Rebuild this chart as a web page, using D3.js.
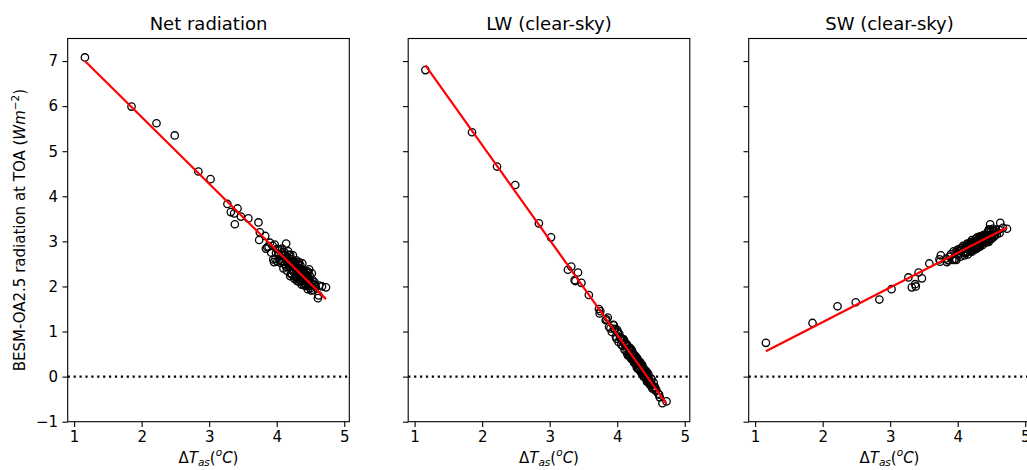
<!DOCTYPE html>
<html>
<head>
<meta charset="utf-8">
<script src="https://cdn.jsdelivr.net/npm/d3@7"></script>
<style>
    body { margin: 0; background: #fff; }
    svg text { font-family: "DejaVu Sans", sans-serif; fill: #000; }
</style>
</head>
<body>
<div id="chart-container"></div>
<script>
// Surface warming (x) for each year of the run
var deltaT = [
    1.16, 1.85, 2.22, 2.49, 2.84, 3.02, 3.27, 3.32, 3.42, 3.37, 3.38, 3.47, 3.58, 3.73, 3.75, 3.74, 3.83,
    3.86, 3.90, 3.84, 3.95, 3.88, 3.97, 3.92, 4.01, 3.94, 3.99,
    4.05, 3.98, 4.03, 4.08, 3.96, 4.10, 4.02, 4.12, 4.06, 4.00,
    4.14, 4.09, 4.17, 4.04, 4.11, 4.19, 4.07, 4.15, 4.21, 4.13,
    4.18, 4.10, 4.23, 4.16, 4.08, 4.20, 4.25, 4.12, 4.22, 4.17,
    4.27, 4.14, 4.24, 4.19, 4.30, 4.21, 4.15, 4.26, 4.23, 4.32,
    4.18, 4.28, 4.25, 4.33, 4.20, 4.29, 4.35, 4.22, 4.31, 4.27,
    4.24, 4.36, 4.30, 4.26, 4.38, 4.33, 4.21, 4.34, 4.40, 4.28,
    4.37, 4.31, 4.42, 4.29, 4.35, 4.44, 4.32, 4.39, 4.25, 4.41,
    4.36, 4.46, 4.33, 4.43, 4.38, 4.30, 4.47, 4.40, 4.35, 4.45,
    4.49, 4.37, 4.42, 4.51, 4.39, 4.46, 4.34, 4.48, 4.44, 4.53,
    4.41, 4.50, 4.38, 4.55, 4.45, 4.52, 4.43, 4.57, 4.47, 4.40,
    4.54, 4.61, 4.49, 4.44, 4.58, 4.51, 4.63, 4.46, 4.56, 4.73,
    4.62, 4.67, 4.48
];
var netRadiation = [
    7.08, 5.99, 5.62, 5.35, 4.55, 4.38, 3.83, 3.65, 3.73, 3.62, 3.38, 3.55, 3.51, 3.42, 3.20, 3.03, 3.12,
    2.87, 2.97, 2.84, 2.60, 2.88, 2.93, 2.75, 2.55, 2.90, 2.74,
    2.82, 2.61, 2.70, 2.84, 2.54, 2.70, 2.83, 2.49, 2.52, 2.83,
    2.95, 2.55, 2.78, 2.58, 2.76, 2.42, 2.70, 2.35, 2.60, 2.64,
    2.70, 2.40, 2.52, 2.52, 2.56, 2.70, 2.36, 2.70, 2.29, 2.55,
    2.54, 2.44, 2.69, 2.54, 2.24, 2.28, 2.66, 2.46, 2.36, 2.50,
    2.45, 2.21, 2.55, 2.33, 2.23, 2.58, 2.15, 2.54, 2.30, 2.21,
    2.54, 2.39, 2.39, 2.17, 2.18, 2.54, 2.50, 2.15, 2.29, 2.47,
    2.04, 2.49, 2.22, 2.34, 2.47, 2.05, 2.16, 2.36, 2.32, 2.14,
    2.31, 2.33, 2.11, 2.25, 2.51, 2.12, 2.01, 2.03, 2.29, 2.24,
    2.23, 2.31, 2.05, 2.08, 2.14, 1.94, 2.40, 2.10, 2.34, 2.14,
    2.22, 1.96, 2.12, 2.04, 2.10, 2.29, 2.01, 2.03, 2.30, 2.35,
    1.92, 1.74, 2.01, 2.22, 1.98, 1.91, 2.02, 2.17, 2.09, 1.98,
    1.80, 2.00, 2.38
];
var lwClearSky = [
    6.80, 5.42, 4.66, 4.25, 3.40, 3.09, 2.37, 2.44, 2.31, 2.14, 2.12, 2.08, 1.81, 1.50, 1.45, 1.40, 1.25,
    1.31, 1.07, 1.27, 1.14, 1.10, 1.05, 0.99, 0.98, 1.15, 0.84,
    0.86, 0.89, 0.95, 0.68, 1.06, 0.81, 0.77, 0.74, 0.71, 1.04,
    0.57, 0.83, 0.47, 0.87, 0.59, 0.64, 0.80, 0.69, 0.41, 0.71,
    0.46, 0.79, 0.53, 0.47, 0.83, 0.56, 0.31, 0.69, 0.57, 0.54,
    0.28, 0.72, 0.43, 0.48, 0.37, 0.60, 0.50, 0.35, 0.47, 0.16,
    0.61, 0.44, 0.35, 0.29, 0.60, 0.20, 0.26, 0.39, 0.31, 0.44,
    0.36, 0.08, 0.36, 0.47, 0.10, 0.15, 0.39, 0.32, 0.01, 0.35,
    0.26, 0.17, 0.09, 0.38, 0.11, 0.09, 0.32, 0.00, 0.46, 0.08,
    0.23, -0.13, 0.31, -0.05, 0.06, 0.40, -0.07, 0.17, 0.12, -0.04,
    -0.19, 0.18, 0.12, -0.17, 0.12, 0.06, 0.21, -0.12, -0.11, -0.26,
    0.13, -0.04, 0.20, -0.25, -0.01, -0.26, 0.12, -0.32, -0.06, 0.07,
    -0.13, -0.38, -0.17, 0.02, -0.30, -0.06, -0.46, -0.08, -0.23, -0.55,
    -0.40, -0.59, -0.16
];
var swClearSky = [
    0.75, 1.19, 1.56, 1.65, 1.71, 1.94, 2.20, 1.98, 2.31, 2.05, 2.00, 2.18, 2.51, 2.60, 2.69, 2.55, 2.62,
    2.58, 2.72, 2.54, 2.59, 2.66, 2.76, 2.59, 2.70, 2.78, 2.72,
    2.85, 2.59, 2.79, 2.90, 2.61, 2.78, 2.81, 2.75, 2.82, 2.82,
    2.95, 2.75, 2.92, 2.66, 2.84, 2.79, 2.86, 2.71, 3.03, 2.85,
    2.95, 2.69, 2.89, 2.89, 2.75, 2.99, 2.86, 2.89, 2.81, 2.91,
    3.06, 2.76, 2.98, 2.87, 2.91, 2.77, 2.94, 2.96, 2.87, 3.09,
    2.84, 2.84, 3.00, 3.03, 2.80, 3.09, 2.95, 2.94, 2.97, 2.85,
    2.97, 3.11, 2.98, 2.82, 3.01, 3.11, 2.98, 2.93, 3.10, 2.99,
    2.92, 3.04, 3.09, 2.93, 3.11, 3.02, 2.90, 3.13, 2.88, 3.07,
    3.00, 3.23, 2.88, 3.14, 3.14, 2.88, 3.04, 2.97, 3.05, 3.14,
    3.22, 3.05, 2.98, 3.12, 3.02, 2.99, 3.07, 3.11, 3.20, 3.23,
    3.09, 3.06, 2.99, 3.13, 3.11, 3.28, 2.98, 3.21, 3.26, 3.12,
    3.11, 3.26, 3.13, 3.14, 3.16, 3.07, 3.41, 3.26, 3.26, 3.28,
    3.18, 3.30, 3.38
];

var panelTitles = ['Net radiation', 'LW (clear-sky)', 'SW (clear-sky)'];
var xTicks = [1, 2, 3, 4, 5];
var yTicks = [-1, 0, 1, 2, 3, 4, 5, 6, 7];
var xDomain = [0.905, 5.075];
var yDomain = [-1, 7.5];

var width = 1027;
var height = 470;
var panelLefts = [67.7, 408.2, 748.7];
var panelWidth = 281.6;
var panelTop = 38.5;
var panelBottom = 421.7;

var panels = [
    { title: panelTitles[0], values: netRadiation },
    { title: panelTitles[1], values: lwClearSky },
    { title: panelTitles[2], values: swClearSky }
];

// least squares fit, y = a + b*x
function linearFit(xs, ys) {
    var mx = d3.mean(xs), my = d3.mean(ys);
    var sxy = 0, sxx = 0;
    for (var i = 0; i < xs.length; i++) {
        sxy += (xs[i] - mx) * (ys[i] - my);
        sxx += (xs[i] - mx) * (xs[i] - mx);
    }
    var b = sxy / sxx;
    return { slope: b, intercept: my - b * mx };
}

// write mathtext-like runs (italic, sub/superscripts) into a text element
function appendMath(textSel, parts, fontSize) {
    var cur = 0;
    parts.forEach(function(p) {
        var shift = 0;
        if (p.sub) shift = fontSize * 0.22;
        if (p.sup) shift = -fontSize * 0.42;
        var ts = textSel.append('tspan')
            .text(p.t)
            .attr('dy', shift - cur)
            .style('font-size', (p.sub || p.sup ? fontSize * 0.7 : fontSize) + 'px');
        if (p.it) ts.style('font-style', 'oblique');
        cur = shift;
    });
}

var svg = d3.select('#chart-container')
    .append('svg')
    .attr('width', width)
    .attr('height', height)
    .attr('viewBox', '0 0 ' + width + ' ' + height);

var x = d3.scaleLinear().domain(xDomain).range([0, panelWidth]);
var y = d3.scaleLinear().domain(yDomain).range([panelBottom - panelTop, 0]);
var plotH = panelBottom - panelTop;

panels.forEach(function(panel, pi) {
    var g = svg.append('g')
        .attr('transform', 'translate(' + panelLefts[pi] + ',' + panelTop + ')');

    var pts = deltaT.map(function(d, i) { return { x: d, y: panel.values[i] }; });

    // open circles
    g.append('g')
        .selectAll('circle')
        .data(pts)
        .enter()
        .append('circle')
        .attr('cx', function(d) { return x(d.x); })
        .attr('cy', function(d) { return y(d.y); })
        .attr('r', 3.7)
        .attr('fill', 'none')
        .attr('stroke', '#000')
        .attr('stroke-width', 1.3);

    // zero reference line
    g.append('line')
        .attr('x1', 0)
        .attr('x2', panelWidth)
        .attr('y1', y(0))
        .attr('y2', y(0))
        .attr('stroke', '#000')
        .attr('stroke-width', 2.2)
        .attr('stroke-dasharray', '2.2,3.7');

    // regression line over the data range
    var fit = linearFit(deltaT, panel.values);
    var xr = d3.extent(deltaT);
    g.append('line')
        .attr('x1', x(xr[0]))
        .attr('x2', x(xr[1]))
        .attr('y1', y(fit.intercept + fit.slope * xr[0]))
        .attr('y2', y(fit.intercept + fit.slope * xr[1]))
        .attr('stroke', '#ff0000')
        .attr('stroke-width', 2.2);

    // axes
    var xAxis = d3.axisBottom(x).tickValues(xTicks).tickSize(5.2).tickPadding(4.5).tickFormat(d3.format('d'));
    var yAxis = d3.axisLeft(y).tickValues(yTicks).tickSize(5.2).tickPadding(4.5).tickFormat(d3.format('d'));

    var gx = g.append('g').attr('transform', 'translate(0,' + plotH + ')').call(xAxis);
    var gy = g.append('g').call(yAxis);
    // shared y: only the first panel keeps its labels
    if (pi > 0) gy.selectAll('text').remove();
    [gx, gy].forEach(function(ax) {
        ax.select('.domain').remove();
        ax.selectAll('line').attr('stroke', '#000').attr('stroke-width', 1.1);
        ax.selectAll('text').style('font-size', '15px').attr('fill', '#000');
    });

    // frame
    g.append('rect')
        .attr('width', panelWidth)
        .attr('height', plotH)
        .attr('fill', 'none')
        .attr('stroke', '#000')
        .attr('stroke-width', 1.1);

    // title
    g.append('text')
        .attr('x', panelWidth / 2)
        .attr('y', -9)
        .attr('text-anchor', 'middle')
        .style('font-size', '18px')
        .text(panel.title);

    // x label
    var xl = g.append('text')
        .attr('x', panelWidth / 2)
        .attr('y', plotH + 41)
        .attr('text-anchor', 'middle')
        .style('font-size', '15px');
    appendMath(xl, [
        { t: '\u0394' }, { t: 'T', it: true }, { t: 'as', it: true, sub: true },
        { t: '(' }, { t: 'o', it: true, sup: true }, { t: 'C', it: true }, { t: ')' }
    ], 15);
});

// y label
var yl = svg.append('text')
    .attr('transform', 'translate(25,' + ((panelTop + panelBottom) / 2) + ') rotate(-90)')
    .attr('text-anchor', 'middle')
    .style('font-size', '15px');
appendMath(yl, [
    { t: 'BESM-OA2.5 radiation at TOA (' }, { t: 'W', it: true }, { t: 'm', it: true },
    { t: '\u22122', sup: true }, { t: ')' }
], 15);
</script>
</body>
</html>
